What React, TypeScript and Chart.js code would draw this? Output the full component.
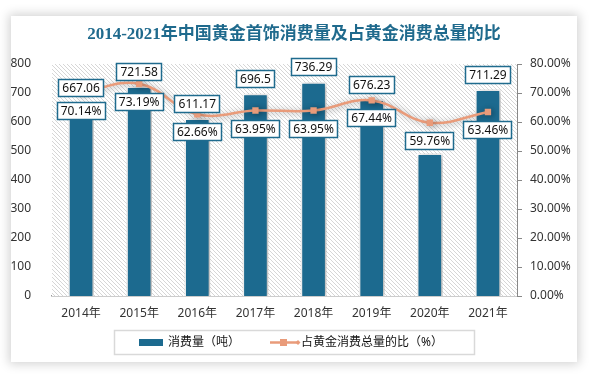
import React, { useEffect, useRef } from "react";
import { Chart, registerables } from "chart.js";

Chart.register(...registerables);

const titleText = "2014-2021年中国黄金首饰消费量及占黄金消费总量的比";
const categories = ["2014年", "2015年", "2016年", "2017年", "2018年", "2019年", "2020年", "2021年"];
const consumption = [667.06, 721.58, 611.17, 696.5, 736.29, 676.23, 490.58, 711.29];
const share = [70.14, 73.19, 62.66, 63.95, 63.95, 67.44, 59.76, 63.46];
const hiddenValueLabels = ["2020年"];
const seriesNames = ["消费量（吨）", "占黄金消费总量的比（%）"];

const BAR_COLOR = "#1C6A8F";
const LINE_COLOR = "#E99B7A";
const LABEL_BORDER = "#1F6B8E";
const FONT = "'Noto Sans', 'Noto Sans CJK SC', sans-serif";

const W = 566;
const H = 346;

function makeHatch(): CanvasPattern | string {
  const c = document.createElement("canvas");
  c.width = 4;
  c.height = 4;
  const g = c.getContext("2d");
  if (!g) return "#eee";
  g.fillStyle = "#ffffff";
  g.fillRect(0, 0, 4, 4);
  g.strokeStyle = "#d6d6d6";
  g.lineWidth = 1;
  g.beginPath();
  g.moveTo(-1, -1);
  g.lineTo(5, 5);
  g.moveTo(-1, 3);
  g.lineTo(1, 5);
  g.moveTo(3, -1);
  g.lineTo(5, 1);
  g.stroke();
  const p = g.createPattern(c, "repeat");
  return p || "#eee";
}

function drawBox(ctx: CanvasRenderingContext2D, text: string, cx: number, top: number) {
  ctx.font = `12px ${FONT}`;
  const tw = ctx.measureText(text).width;
  const w = Math.round(tw + 8);
  const h = 18;
  const x = Math.round(cx - w / 2);
  const y = Math.round(top);
  ctx.fillStyle = "#ffffff";
  ctx.fillRect(x, y, w, h);
  ctx.strokeStyle = LABEL_BORDER;
  ctx.lineWidth = 1.5;
  ctx.strokeRect(x + 0.5, y + 0.5, w - 1, h - 1);
  ctx.fillStyle = "#111111";
  ctx.textAlign = "center";
  ctx.textBaseline = "middle";
  ctx.fillText(text, cx, y + h / 2 + 0.5);
}

const decorPlugin = {
  id: "decor",
  beforeDatasetsDraw(chart: any) {
    const { ctx, chartArea } = chart;
    ctx.save();
    ctx.fillStyle = makeHatch();
    ctx.fillRect(chartArea.left, chartArea.top, chartArea.right - chartArea.left, chartArea.bottom - chartArea.top);
    ctx.restore();
  },
  beforeDatasetDraw(chart: any) {
    const ctx = chart.ctx;
    ctx.save();
    ctx.shadowColor = "rgba(0,0,0,0.35)";
    ctx.shadowBlur = 6;
    ctx.shadowOffsetX = 2;
    ctx.shadowOffsetY = 1;
  },
  afterDatasetDraw(chart: any) {
    chart.ctx.restore();
  },
  afterDraw(chart: any) {
    const { ctx } = chart;
    const barMeta = chart.getDatasetMeta(0);
    const lineMeta = chart.getDatasetMeta(1);
    ctx.save();
    barMeta.data.forEach((bar: any, i: number) => {
      if (hiddenValueLabels.includes(categories[i])) return;
      drawBox(ctx, String(consumption[i]), bar.x, bar.y - 6 - 18);
    });
    lineMeta.data.forEach((pt: any, i: number) => {
      drawBox(ctx, share[i].toFixed(2) + "%", pt.x, pt.y + 9);
    });

    ctx.font = `bold 17px 'Liberation Serif', 'Noto Sans CJK SC', serif`;
    ctx.fillStyle = "#1F6A8D";
    ctx.textAlign = "center";
    ctx.textBaseline = "middle";
    ctx.fillText(titleText, W / 2, 19);

    ctx.strokeStyle = "#d9d9d9";
    ctx.lineWidth = 1.5;
    ctx.strokeRect(103.5, 314.5, 360, 24);
    ctx.fillStyle = BAR_COLOR;
    ctx.fillRect(128, 323, 24, 7);
    ctx.font = `12px ${FONT}`;
    ctx.fillStyle = "#111111";
    ctx.textAlign = "left";
    ctx.textBaseline = "middle";
    ctx.fillText(seriesNames[0], 157, 327);
    ctx.strokeStyle = LINE_COLOR;
    ctx.lineWidth = 2.5;
    ctx.beginPath();
    ctx.moveTo(259, 326.5);
    ctx.lineTo(287, 326.5);
    ctx.stroke();
    ctx.fillStyle = LINE_COLOR;
    ctx.fillRect(269, 323, 7, 7);
    ctx.beginPath();
    ctx.moveTo(287, 324);
    ctx.lineTo(289.5, 326.5);
    ctx.lineTo(287, 329);
    ctx.lineTo(284.5, 326.5);
    ctx.closePath();
    ctx.fill();
    ctx.fillStyle = "#111111";
    ctx.fillText(seriesNames[1], 290, 327);
    ctx.restore();
  },
};

export default function App() {
  const ref = useRef<HTMLCanvasElement | null>(null);

  useEffect(() => {
    document.body.style.margin = "0";
    const canvas = ref.current;
    if (!canvas) return;
    const chart = new Chart(canvas, {
      type: "bar",
      data: {
        labels: categories,
        datasets: [
          {
            type: "bar",
            label: seriesNames[0],
            data: consumption,
            backgroundColor: BAR_COLOR,
            borderColor: "#ffffff",
            borderWidth: 1.5,
            barThickness: 25,
            yAxisID: "y",
            order: 2,
          },
          {
            type: "line",
            label: seriesNames[1],
            data: share,
            borderColor: LINE_COLOR,
            backgroundColor: LINE_COLOR,
            borderWidth: 2.5,
            tension: 0.4,
            pointStyle: "rect",
            pointRadius: 4.5,
            pointBorderWidth: 0,
            yAxisID: "y1",
            order: 1,
          },
        ],
      },
      options: {
        responsive: false,
        animation: false,
        devicePixelRatio: 1,
        layout: { padding: { top: 48, left: 0, right: 0, bottom: 0 } },
        plugins: {
          legend: { display: false },
          title: { display: false },
          tooltip: { enabled: false },
        },
        scales: {
          x: {
            grid: { display: false },
            border: { display: true, color: "#999999", width: 1.5 },
            ticks: { color: "#333333", font: { size: 12, family: FONT }, padding: 2, maxRotation: 0 },
            afterFit: (s: any) => { s.height = 66; },
          },
          y: {
            position: "left",
            min: 0,
            max: 800,
            grid: { display: false },
            border: { display: false },
            ticks: { stepSize: 100, color: "#333333", font: { size: 12, family: FONT }, padding: 13 },
            afterFit: (s: any) => { s.width = 41; },
          },
          y1: {
            position: "right",
            min: 0,
            max: 80,
            grid: { display: true, drawOnChartArea: false, drawTicks: true, tickLength: 5, color: "#888888" },
            border: { display: true, color: "#888888", width: 1 },
            ticks: {
              stepSize: 10,
              color: "#333333",
              font: { size: 12, family: FONT },
              padding: 8,
              callback: (v: any) => Number(v).toFixed(2) + "%",
            },
            afterFit: (s: any) => { s.width = 60; },
          },
        },
      },
      plugins: [decorPlugin],
    } as any);
    return () => chart.destroy();
  }, []);

  return (
    <div style={{ position: "relative", width: 591, height: 378, background: "#ffffff", overflow: "hidden" }}>
      <div
        style={{
          position: "absolute",
          left: 11,
          top: 16,
          width: W,
          height: H,
          background: "#ffffff",
          boxShadow: "0 0 10px 2px rgba(0,0,0,0.18)",
        }}
      >
        <canvas ref={ref} width={W} height={H} style={{ display: "block" }} />
      </div>
    </div>
  );
}
